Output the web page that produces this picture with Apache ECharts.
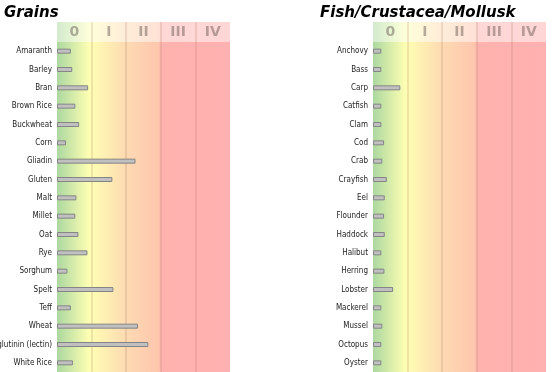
<!DOCTYPE html>
<html><head><meta charset="utf-8">
<script src="https://cdn.jsdelivr.net/npm/echarts@6/dist/echarts.min.js"></script>
<style>html,body{margin:0;padding:0;background:#fff}#c{width:556px;height:372px}</style>
</head><body><div id="c"></div>
<script>
const leftTitle = 'Grains';
const rightTitle = 'Fish/Crustacea/Mollusk';
const classLabels = ['0', 'I', 'II', 'III', 'IV'];
const grainCats = ['Amaranth','Barley','Bran','Brown Rice','Buckwheat','Corn','Gliadin','Gluten','Malt','Millet','Oat','Rye','Sorghum','Spelt','Teff','Wheat','Wheat Germ Agglutinin (lectin)','White Rice'];
const grainVals = [0.40,0.44,0.90,0.53,0.64,0.26,2.27,1.60,0.56,0.53,0.62,0.88,0.30,1.63,0.40,2.34,2.64,0.46];
const fishCats = ['Anchovy','Bass','Carp','Catfish','Clam','Cod','Crab','Crayfish','Eel','Flounder','Haddock','Halibut','Herring','Lobster','Mackerel','Mussel','Octopus','Oyster'];
const fishVals = [0.24,0.24,0.79,0.24,0.24,0.32,0.27,0.40,0.34,0.32,0.34,0.24,0.33,0.58,0.24,0.27,0.24,0.24];

const mainGrad = {type:'linear',x:0,y:0,x2:1,y2:0,colorStops:[
  {offset:0,color:'#acd8a0'},{offset:0.19,color:'#ffffb3'},{offset:0.40,color:'#fddab2'},
  {offset:0.585,color:'#fec6ae'},{offset:0.605,color:'#ffb3ae'},{offset:1,color:'#ffb0b0'}]};
const headGrad = {type:'linear',x:0,y:0,x2:1,y2:0,colorStops:[
  {offset:0,color:'#d2ebcd'},{offset:0.19,color:'#ffffda'},{offset:0.40,color:'#feecd8'},
  {offset:0.585,color:'#ffe2d6'},{offset:0.605,color:'#ffd8d6'},{offset:1,color:'#ffd6d6'}]};
const lineCol = 'rgba(170,120,100,0.25)';

const panels = [
  {left:57, cats:grainCats, vals:grainVals},
  {left:373, cats:fishCats, vals:fishVals}
];
const grid=[], xAxis=[], yAxis=[], series=[];
panels.forEach((p,i)=>{
  grid.push({left:p.left, width:173, top:22, height:20, show:true, borderWidth:0, backgroundColor:headGrad, containLabel:false, outerBoundsMode:'none'});
  xAxis.push({gridIndex:grid.length-1, type:'category', data:classLabels, boundaryGap:true, position:'bottom',
    axisLine:{show:false}, axisTick:{show:false},
    splitLine:{show:true, showMinLine:false, showMaxLine:false, lineStyle:{color:lineCol,width:1.5}},
    axisLabel:{inside:true, margin:3, color:'rgba(90,80,70,0.45)', fontSize:14, fontWeight:'bold', fontFamily:'DejaVu Sans'}});
  yAxis.push({gridIndex:grid.length-1, type:'value', show:false});
  series.push({type:'bar', xAxisIndex:xAxis.length-1, yAxisIndex:yAxis.length-1, data:[], silent:true});
  grid.push({left:p.left, width:173, top:42, bottom:0, show:true, borderWidth:0, backgroundColor:mainGrad, containLabel:false, outerBoundsMode:'none'});
  xAxis.push({gridIndex:grid.length-1, type:'value', min:0, max:5, interval:1,
    axisLine:{show:false}, axisTick:{show:false}, axisLabel:{show:false},
    splitLine:{show:true, showMinLine:false, showMaxLine:false, lineStyle:{color:lineCol,width:1.5}}});
  yAxis.push({gridIndex:grid.length-1, type:'category', data:p.cats, inverse:true,
    axisLine:{show:false}, axisTick:{show:false}, splitLine:{show:false},
    axisLabel:{margin:5, color:'#222', fontSize:8, fontFamily:'DejaVu Sans Condensed', padding:[0,0,3,0], interval:0}});
  series.push({type:'bar', xAxisIndex:xAxis.length-1, yAxisIndex:yAxis.length-1, data:p.vals, barWidth:5,
    itemStyle:{color:'#c0c0c0', borderColor:'#858585', borderWidth:1}, silent:true, animation:false});
});

const chart = echarts.init(document.getElementById('c'), null, {renderer:'canvas'});
const titleStyle = {fontSize:15, fontWeight:'bold', fontStyle:'italic', color:'#000', fontFamily:'DejaVu Sans'};
chart.setOption({
  animation:false,
  title:[
    {text:leftTitle, left:4, top:6, padding:0, textStyle:titleStyle},
    {text:rightTitle, left:320, top:6, padding:0, textStyle:titleStyle}
  ],
  grid, xAxis, yAxis, series
});
</script></body></html>
